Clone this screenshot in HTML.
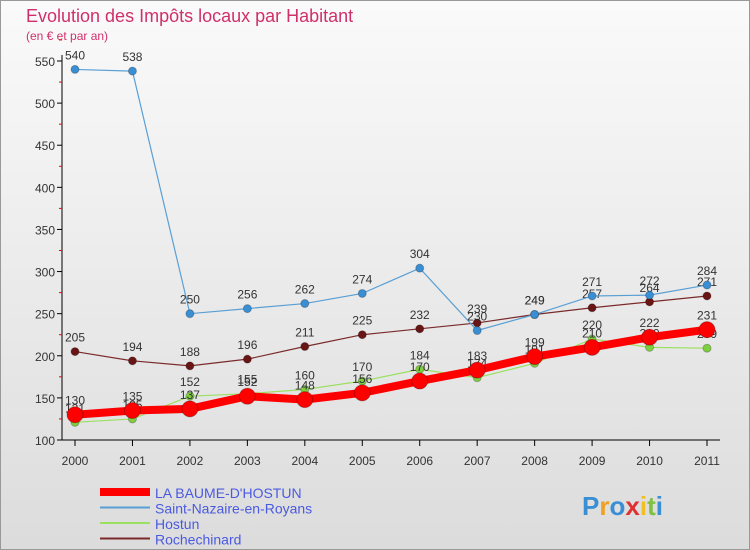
<!DOCTYPE html>
<html><head><meta charset="utf-8"><style>
body{margin:0;width:750px;height:550px;overflow:hidden;font-family:"Liberation Sans",sans-serif}
#wrap{position:absolute;left:0;top:0;width:748px;height:548px;border:1px solid #999;background:linear-gradient(#fafafa,#dcdcdc)}
</style></head><body>
<div id="wrap">
<svg id="svg" width="750" height="550" style="position:absolute;left:-1px;top:-1px"></svg>
</div>
<script>
const years=["2000","2001","2002","2003","2004","2005","2006","2007","2008","2009","2010","2011"];
const yTicks=[100,150,200,250,300,350,400,450,500,550];
const laBaume=[130,135,137,152,148,156,170,183,199,210,222,231];
const stNazaire=[540,538,250,256,262,274,304,230,249,271,272,284];
const hostun=[121,125,152,155,160,170,184,174,191,220,210,209];
const rochechinard=[205,194,188,196,211,225,232,239,249,257,264,271];
const NS="http://www.w3.org/2000/svg";
const svg=document.getElementById('svg');
function X(i){return 75+i*(707-75)/11;}
function Y(v){return 440-(v-100)*(379/450);}
function el(t,a,p){const e=document.createElementNS(NS,t);for(const k in a)e.setAttribute(k,a[k]);(p||svg).appendChild(e);return e;}
// title
let t=el('text',{x:26,y:22,'font-size':18,fill:'#d0306a'});t.textContent='Evolution des Impôts locaux par Habitant';


t=el('text',{x:26,y:40,'font-size':12,fill:'#d0306a'});t.textContent='(en € et par an)';


// axes
let ax=el('line',{x1:62,y1:55,x2:62,y2:440,stroke:'#000'});


ax=el('line',{x1:62,y1:440,x2:720,y2:440,stroke:'#000'});


yTicks.forEach(v=>{
 el('line',{x1:57,y1:Y(v),x2:62,y2:Y(v),stroke:'#000'});
 el('line',{x1:59,y1:Y(v+25),x2:62,y2:Y(v+25),stroke:'#e00'});
 const l=el('text',{x:55,y:Y(v)+5,'font-size':12,fill:'#333','text-anchor':'end'});l.textContent=v;
 
 
});
years.forEach((y,i)=>{
 el('line',{x1:X(i),y1:440,x2:X(i),y2:446,stroke:'#000'});
 const l=el('text',{x:X(i),y:465,'font-size':12,fill:'#333','text-anchor':'middle'});l.textContent=y;
 
 
});
function series(data,name,color,w,r,dot){
 const g=el('g',{});
 
 
 el('polyline',{points:data.map((v,i)=>X(i)+','+Y(v)).join(' '),fill:'none',stroke:color,'stroke-width':w},g);
 data.forEach((v,i)=>{
  const c=el('circle',{cx:X(i),cy:Y(v),r:r,fill:dot,stroke:'rgba(0,0,0,0.25)'},g);
  
  
  const l=el('text',{x:X(i),y:Y(v)-10,'font-size':12,fill:'#333','text-anchor':'middle'},g);l.textContent=v;
  
  
 });
}
series(rochechinard,'rochechinard-series','#7a2a2a',1.2,4,'#6a1515');
series(stNazaire,'st-nazaire-series','#5a9fd4',1.2,4,'#3a8fd4');
series(hostun,'hostun-series','#9be060',1.2,4,'#7ed040');
series(laBaume,'la-baume-series','#f00',8,8,'#f00');
// legend
const leg=[['LA BAUME-D\'HOSTUN','#f00',8],['Saint-Nazaire-en-Royans','#5a9fd4',2],['Hostun','#9be060',2],['Rochechinard','#7a2a2a',2]];
leg.forEach((d,i)=>{
 const y=492+i*15.5;
 const g=el('g',{});
 
 
 el('line',{x1:100,y1:y,x2:150,y2:y,stroke:d[1],'stroke-width':d[2]},g);
 const l=el('text',{x:155,y:y+6,'font-size':14,fill:'#4a5ae0'},g);l.textContent=d[0];
});
// logo
const lg=el('text',{x:582,y:515,'font-size':26,'font-weight':'bold'});


[['P','#3a8fd4'],['r','#f0a020'],['o','#3a8fd4'],['x','#e03030'],['i','#f0c020'],['t','#7ec040'],['i','#3a8fd4']].forEach(c=>{const s=el('tspan',{fill:c[1]},lg);s.textContent=c[0];});
</script>
</body></html>
